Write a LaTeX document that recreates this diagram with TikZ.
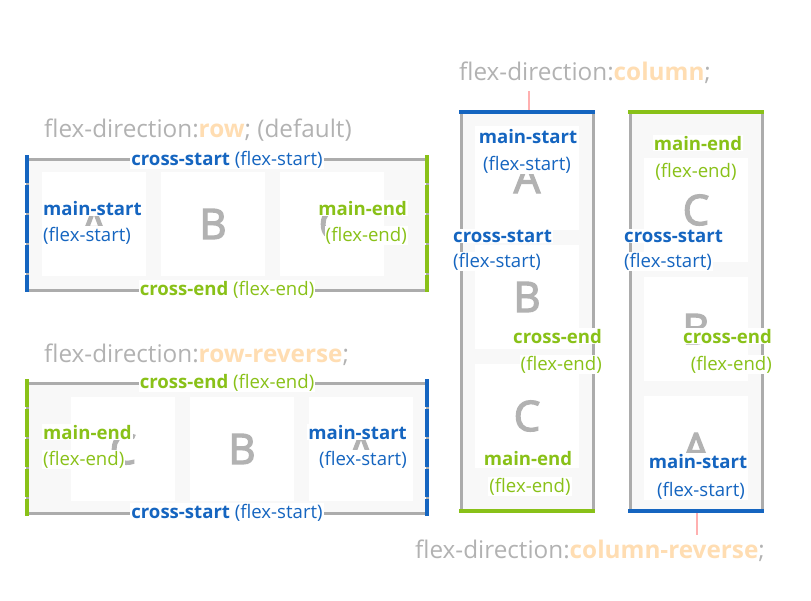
\documentclass[tikz,border=0pt]{standalone}
\usepackage{fontspec}
\setmainfont{Open Sans}
\newfontfamily\letfam[FakeBold=3]{Open Sans}
\usepackage{tikz}

\definecolor{mainblue}{RGB}{21,101,192}
\definecolor{maingreen}{RGB}{137,193,24}
\definecolor{framegray}{RGB}{172,172,172}
\definecolor{titlegray}{RGB}{178,178,178}
\definecolor{peach}{RGB}{255,221,178}
\definecolor{pinkline}{RGB}{255,176,176}
\definecolor{boxbg}{RGB}{248,248,248}
\definecolor{lettergray}{RGB}{178,178,178}

\newcommand\ttlfont{\fontsize{24.3}{28}\selectfont}
\newcommand\lblfont{\fontsize{18.6}{22}\selectfont}
\newcommand\letfont{\letfam\fontsize{42}{48}\selectfont}

\begin{document}
\begin{tikzpicture}[x=1pt, y=-1pt,
  frame/.style={draw=framegray, line width=3pt, fill=boxbg},
  item/.style={fill=white, minimum size=104pt, inner sep=0pt, text=lettergray, font=\letfont},
  startbar/.style={draw=mainblue, line width=4.5pt},
  endbar/.style={draw=maingreen, line width=4.5pt},
  seg/.style={dash pattern=on 28pt off 2pt},
  ttl/.style={anchor=base west, text=titlegray, font=\ttlfont, inner sep=0pt},
  lbl/.style={font=\lblfont, fill=white, inner sep=1pt},
  sb/.style={lbl, text=mainblue},
  se/.style={lbl, text=maingreen},
  tick/.style={draw=pinkline, line width=2pt}]

\useasboundingbox (0,0) rectangle (811,600);

% flex-direction: row
\node[ttl] (rowtitle) at (44,137) {flex-direction:\textbf{\color{peach}row}; (default)};
\draw[frame] (27,159) rectangle (427,290);
\foreach \l [count=\i] in {A,B,C}
    \node[item] (row\l) at ({94+119*(\i-1)},224) {\l};
\draw[startbar, seg] (27,155) -- (27,292);
\draw[endbar, seg] (427,155) -- (427,292);

\node[sb, anchor=base] (rowcs) at (227,165) {\textbf{cross-start} (flex-start)};
\node[se, anchor=base] (rowce) at (227,295) {\textbf{cross-end} (flex-end)};
\node[sb, anchor=base west] (rowms) at (42,215) {\textbf{main-start}};
\node[sb, anchor=base west] (rowmsf) at (42,241) {(flex-start)};
\node[se, anchor=base east] (rowme) at (408,215) {\textbf{main-end}};
\node[se, anchor=base east] (rowmef) at (408,241) {(flex-end)};

% flex-direction: row-reverse
\node[ttl] (revtitle) at (44,362) {flex-direction:\textbf{\color{peach}row-reverse};};
\draw[frame] (27,383) rectangle (427,513);
\foreach \l [count=\i] in {C,B,A}
    \node[item] (rev\l) at ({123+119*(\i-1)},449) {\l};
\draw[endbar, seg] (27,379) -- (27,516);
\draw[startbar, seg] (427,379) -- (427,516);

\node[se, anchor=base] (revce) at (227,388) {\textbf{cross-end} (flex-end)};
\node[sb, anchor=base] (revcs) at (227,518) {\textbf{cross-start} (flex-start)};
\node[se, anchor=base west] (revme) at (42,439) {\textbf{main-end}};
\node[se, anchor=base west] (revmef) at (42,465) {(flex-end)};
\node[sb, anchor=base east] (revms) at (408,439) {\textbf{main-start}};
\node[sb, anchor=base east] (revmsf) at (408,465) {(flex-start)};

% flex-direction: column
\node[ttl] (coltitle) at (459,80) {flex-direction:\textbf{\color{peach}column};};
\draw[frame] (461,112) rectangle (593,511);
\foreach \l [count=\i] in {A,B,C}
    \node[item] (col\l) at ({527},{178+119*(\i-1)}) {\l};
\draw[startbar] (459,112) -- (595,112);
\draw[endbar] (459,511) -- (595,511);
\coordinate (coltick) at (529,91);
\coordinate (coltop) at (529,110);
\draw[tick] (coltick) -- (coltop);

\node[sb, anchor=base] (colms) at (528,143) {\textbf{main-start}};
\node[sb, anchor=base] (colmsf) at (527,170) {(flex-start)};
\node[sb, anchor=base west] (colcs) at (452,242) {\textbf{cross-start}};
\node[sb, anchor=base west] (colcsf) at (452,267) {(flex-start)};
\node[se, anchor=base east] (colce) at (603,343) {\textbf{cross-end}};
\node[se, anchor=base east] (colcef) at (603,370) {(flex-end)};
\node[se, anchor=base] (colme) at (528,465) {\textbf{main-end}};
\node[se, anchor=base] (colmef) at (530,492) {(flex-end)};

% flex-direction: column-reverse
\draw[frame] (630,112) rectangle (762,511);
\foreach \l [count=\i] in {C,B,A}
    \node[item] (crev\l) at ({696},{210+119*(\i-1)}) {\l};
\draw[endbar] (628,112) -- (764,112);
\draw[startbar] (628,511) -- (764,511);
\coordinate (crevbot) at (697,513);
\coordinate (crevtick) at (697,535);
\draw[tick] (crevbot) -- (crevtick);
\node[ttl] (crevtitle) at (415,558) {flex-direction:\textbf{\color{peach}column-reverse};};

\node[se, anchor=base] (crevme) at (698,150) {\textbf{main-end}};
\node[se, anchor=base] (crevmef) at (696,177) {(flex-end)};
\node[sb, anchor=base west] (crevcs) at (623,242) {\textbf{cross-start}};
\node[sb, anchor=base west] (crevcsf) at (623,267) {(flex-start)};
\node[se, anchor=base east] (crevce) at (773,343) {\textbf{cross-end}};
\node[se, anchor=base east] (crevcef) at (773,370) {(flex-end)};
\node[sb, anchor=base] (crevms) at (698,468) {\textbf{main-start}};
\node[sb, anchor=base] (crevmsf) at (701,496) {(flex-start)};

\end{tikzpicture}
\end{document}
